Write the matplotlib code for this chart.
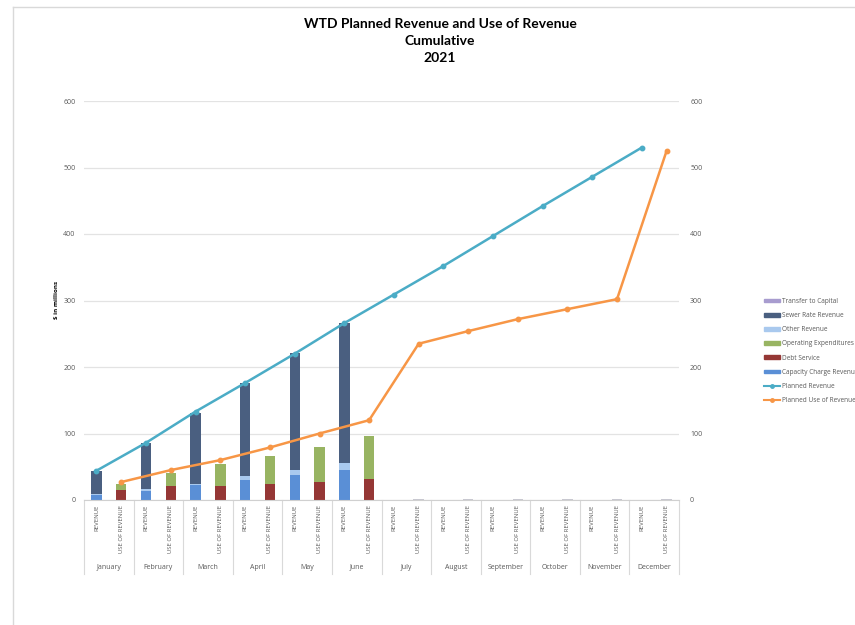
import numpy as np
import matplotlib.pyplot as plt
from matplotlib.patches import Rectangle
from matplotlib.lines import Line2D

months = ["January", "February", "March", "April", "May", "June", "July",
          "August", "September", "October", "November", "December"]

# revenue bar segments ($ millions, cumulative to date)
capacity_charge = [7, 14, 22, 30, 37, 45, 0, 0, 0, 0, 0, 0]
other_revenue = [2, 2.5, 2.5, 6, 8, 11, 0, 0, 0, 0, 0, 0]
sewer_rate = [35, 69.5, 106.5, 140, 176, 210, 0, 0, 0, 0, 0, 0]

# use-of-revenue bar segments
debt_service = [15, 21, 21, 24, 27.5, 32, 0, 0, 0, 0, 0, 0]
operating_exp = [8.5, 20, 33, 42, 52.5, 64, 0, 0, 0, 0, 0, 0]
transfer_capital = [0, 0, 0, 0, 0, 0, 0.8, 0.8, 0.8, 0.8, 0.8, 0.8]

planned_revenue = [44, 86, 133, 176, 220, 266, 309, 352, 397, 442, 486, 530]
planned_use = [27, 45, 60, 79, 100, 120, 235, 254, 272, 287, 302, 525]

C_CAP = "#5a8fd6"
C_OTHER = "#a9c9ee"
C_SEWER = "#4a5f80"
C_DEBT = "#953735"
C_OPEX = "#98b462"
C_TRANSFER = "#a89ccf"
C_PREV = "#4bacc6"
C_PUSE = "#f79646"
GRID = "#e3e3e3"
TXT = "#595959"

plt.rcParams["font.family"] = ["Open Sans", "DejaVu Sans"]

fig = plt.figure(figsize=(8.55, 6.25), dpi=100)
ax = fig.add_axes([84 / 855, 1 - 500 / 625, 595 / 855, 399 / 625])

n = len(months)
x_rev = np.arange(n) * 2
x_use = x_rev + 1
w = 0.42

cap = np.array(capacity_charge)
oth = np.array(other_revenue)
sew = np.array(sewer_rate)
ax.bar(x_rev, cap, w, color=C_CAP, zorder=2)
ax.bar(x_rev, oth, w, bottom=cap, color=C_OTHER, zorder=2)
ax.bar(x_rev, sew, w, bottom=cap + oth, color=C_SEWER, zorder=2)

debt = np.array(debt_service)
opex = np.array(operating_exp)
ax.bar(x_use, debt, w, color=C_DEBT, zorder=2)
ax.bar(x_use, opex, w, bottom=debt, color=C_OPEX, zorder=2)
ax.bar(x_use, transfer_capital, w, bottom=debt + opex, color="#c8c8d0", zorder=2)

ax.plot(x_rev, planned_revenue, color=C_PREV, lw=1.8, marker="o", ms=3.2, zorder=3)
ax.plot(x_use, planned_use, color=C_PUSE, lw=1.8, marker="o", ms=3.2, zorder=3)

ax.set_xlim(-0.5, 2 * n - 0.5)
ax.set_ylim(0, 600)
ax.set_yticks(range(0, 601, 100))
ax.yaxis.grid(True, color=GRID, lw=0.9)
ax.set_axisbelow(True)
for s in ["top", "right", "left"]:
    ax.spines[s].set_visible(False)
ax.spines["bottom"].set_color("#d0d0d0")
ax.tick_params(axis="y", length=0, labelsize=5, labelcolor=TXT, pad=6)
ax.set_xticks([])

ax2 = ax.twinx()
ax2.set_ylim(0, 600)
ax2.set_yticks(range(0, 601, 100))
ax2.tick_params(axis="y", length=0, labelsize=5, labelcolor=TXT, pad=8)
for s in ax2.spines.values():
    s.set_visible(False)

# two-level category axis
trans = ax.get_xaxis_transform()
for i in range(n + 1):
    ax.plot([2 * i - 0.5, 2 * i - 0.5], [0, -0.185], transform=trans,
            color="#d9d9d9", lw=0.8, clip_on=False)
for i, m in enumerate(months):
    ax.text(x_rev[i], -0.012, "REVENUE", transform=trans, rotation=90,
            ha="center", va="top", fontsize=4.3, color=TXT)
    ax.text(x_use[i], -0.012, "USE OF REVENUE", transform=trans, rotation=90,
            ha="center", va="top", fontsize=4.3, color=TXT)
    ax.text(2 * i + 0.5, -0.168, m, transform=trans, ha="center", va="center",
            fontsize=5, color=TXT)

ax.text(56 / 855, 1 - 300 / 625, "$ in millions", transform=fig.transFigure,
        rotation=90, ha="center", va="center", fontsize=4.5, fontweight="bold")

fig.text(440 / 855, 1 - 41 / 625, "WTD Planned Revenue and Use of Revenue\nCumulative\n2021",
         ha="center", va="center", fontsize=10, fontweight="bold",
         linespacing=1.45, family=["Lato", "DejaVu Sans"])

handles = [
    Rectangle((0, 0), 1, 1, color=C_TRANSFER),
    Rectangle((0, 0), 1, 1, color=C_SEWER),
    Rectangle((0, 0), 1, 1, color=C_OTHER),
    Rectangle((0, 0), 1, 1, color=C_OPEX),
    Rectangle((0, 0), 1, 1, color=C_DEBT),
    Rectangle((0, 0), 1, 1, color=C_CAP),
    Line2D([], [], color=C_PREV, lw=1.5, marker="o", ms=2.5),
    Line2D([], [], color=C_PUSE, lw=1.5, marker="o", ms=2.5),
]
labels = ["Transfer to Capital", "Sewer Rate Revenue", "Other Revenue",
          "Operating Expenditures", "Debt Service", "Capacity Charge Revenue",
          "Planned Revenue", "Planned Use of Revenue"]
fig.legend(handles, labels, loc="upper left", bbox_to_anchor=(758 / 855, 1 - 292 / 625),
           frameon=False, fontsize=4.7, labelcolor=TXT, handlelength=2.5,
           handleheight=0.5, labelspacing=1.1, handletextpad=0.3)

# chart-area border
fig.add_artist(Line2D([12.5 / 855, 12.5 / 855], [0, 1 - 7 / 625], transform=fig.transFigure,
                      color="#d9d9d9", lw=1))
fig.add_artist(Line2D([12.5 / 855, 1], [1 - 7 / 625, 1 - 7 / 625], transform=fig.transFigure,
                      color="#d9d9d9", lw=1))

fig.savefig("out.png", dpi=100)
